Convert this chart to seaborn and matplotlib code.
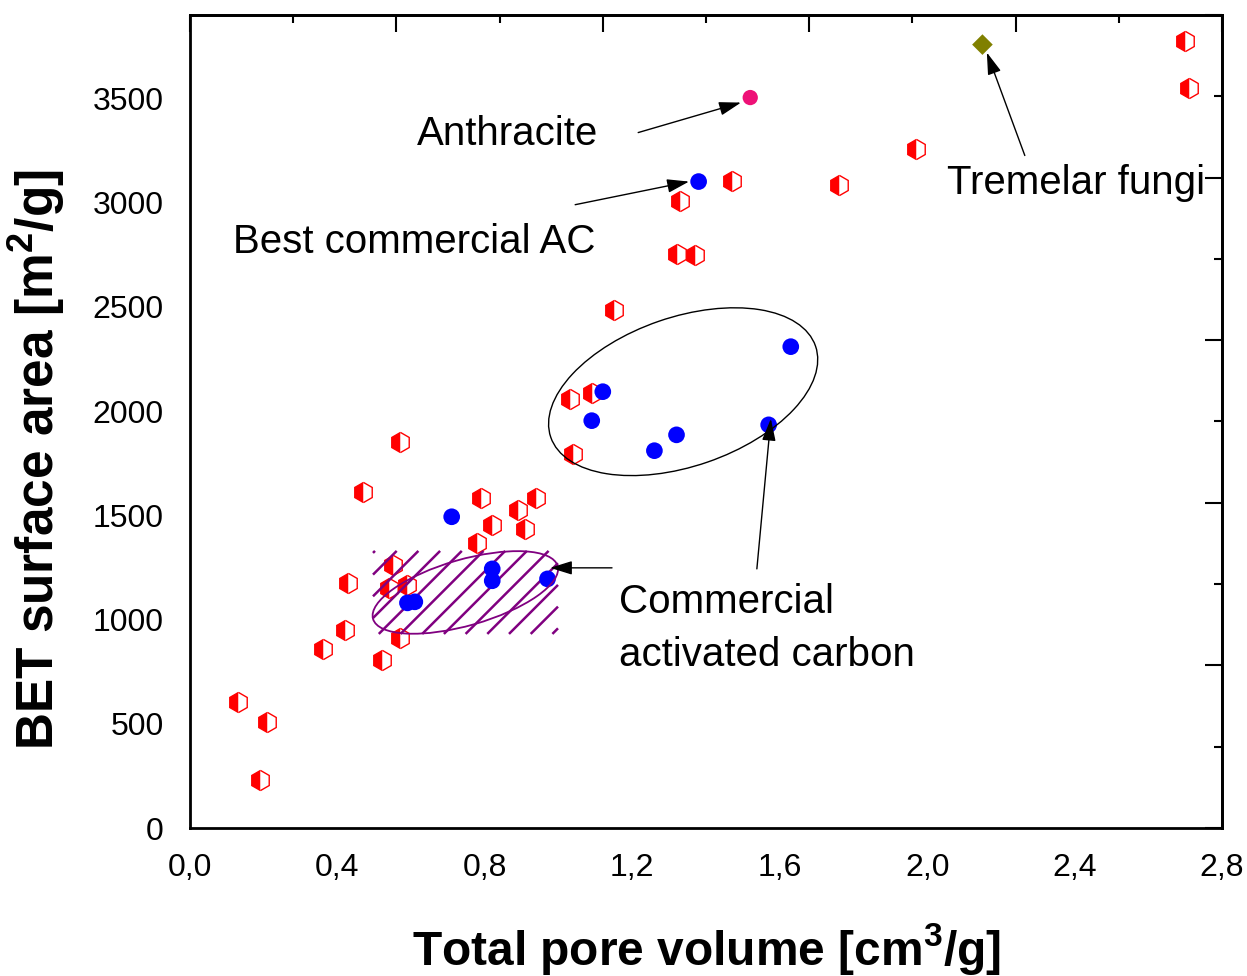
import numpy as np
import pandas as pd
import matplotlib
matplotlib.use("Agg")
import matplotlib.pyplot as plt
import matplotlib.transforms as mtransforms
from matplotlib.patches import Ellipse, FancyArrowPatch
from matplotlib.collections import LineCollection
from matplotlib.ticker import MultipleLocator, FuncFormatter
import seaborn as sns

# ---- data -------------------------------------------------------------
# activated carbons from literature (half-filled hexagons)
lit_volume = [0.13, 0.21, 0.19, 0.36, 0.42, 0.43, 0.47, 0.57, 0.52, 0.55,
              0.54, 0.59, 0.57, 0.78, 0.79, 0.82, 0.89, 0.91, 0.94, 1.03,
              1.04, 1.09, 1.15, 1.32, 1.37, 1.33, 1.47, 1.76, 1.97, 2.70, 2.71]
lit_area = [605, 510, 230, 860, 950, 1175, 1610, 1850, 805, 1262,
            1152, 1166, 912, 1365, 1585, 1455, 1525, 1435, 1585, 2060,
            1795, 2085, 2485, 2755, 2750, 3010, 3105, 3085, 3255, 3775, 3548]

# commercial activated carbons (filled circles)
com_volume = [0.71, 0.59, 0.61, 0.82, 0.82, 0.97, 1.09, 1.12, 1.26, 1.32,
              1.57, 1.63, 1.38]
com_area = [1493, 1080, 1085, 1243, 1186, 1195, 1954, 2093, 1810, 1886,
            1934, 2309, 3101]

anthracite_volume = [1.52]
anthracite_area = [3504]

fungi_volume = [2.15]
fungi_area = [3758]

x_ticks = [0.0, 0.4, 0.8, 1.2, 1.6, 2.0, 2.4, 2.8]
y_ticks = [0, 500, 1000, 1500, 2000, 2500, 3000, 3500]

# ---- style ------------------------------------------------------------
sns.set_style("white")
plt.rcParams["font.family"] = ["Liberation Sans", "DejaVu Sans"]
plt.rcParams["text.color"] = "black"
plt.rcParams["axes.labelcolor"] = "black"
plt.rcParams["xtick.color"] = "black"
plt.rcParams["ytick.color"] = "black"
plt.rcParams["mathtext.fontset"] = "custom"
plt.rcParams["mathtext.rm"] = "Liberation Sans:bold"
plt.rcParams["mathtext.it"] = "Liberation Sans:bold"
plt.rcParams["mathtext.bf"] = "Liberation Sans:bold"

fig = plt.figure(figsize=(12.47, 9.76), dpi=100)
ax = fig.add_axes([190 / 1247, 1 - 828 / 976, 1032 / 1247, 813 / 976])

xmax, ymax = 2.8, 3900
ax.set_xlim(0, xmax)
ax.set_ylim(0, ymax)

# ---- markers ----------------------------------------------------------
ax.plot(lit_volume, lit_area, linestyle="none", marker="h", markersize=14.5,
        fillstyle="left", color="red", markerfacecoloralt="white",
        markeredgecolor="red", markeredgewidth=1.0, zorder=3)

sns.scatterplot(x=com_volume, y=com_area, ax=ax, color="#0000ff", s=12 ** 2,
                edgecolor="none", zorder=5)
sns.scatterplot(x=anthracite_volume, y=anthracite_area, ax=ax,
                color="#ee1177", s=11 ** 2, edgecolor="none", zorder=5)
sns.scatterplot(x=fungi_volume, y=fungi_area, ax=ax, color="#808000",
                marker="D", s=10.5 ** 2, edgecolor="none", zorder=5)


def at_data(x, y):
    """Offset transform: local pixel units placed at a data point."""
    return mtransforms.ScaledTranslation(x, y, ax.transData)


# grouping ellipse around the high-area commercial carbons
ax.add_patch(Ellipse((0, 0), 280, 149, angle=19, fill=False, edgecolor="black",
                     linewidth=1.0, transform=at_data(1.338, 2093), zorder=6))

# hatched band with ellipse around the low-area commercial carbons
purple = "#800080"
hx0, hy0 = 0.4965, 931
hw, hh, step = 185, 83, 21.7
segs = []
for c in np.arange(2 - hh, hw + 1, step):
    t0, t1 = max(0.0, -c), min(hh, hw - c)
    if t1 > t0:
        segs.append([(c + t0, t0), (c + t1, t1)])
hatch = LineCollection(segs, colors=purple, linewidths=1.8,
                       transform=at_data(hx0, hy0), zorder=4)
ax.add_collection(hatch, autolim=False)
ax.add_patch(Ellipse((0, 0), 192, 66, angle=16, fill=False, edgecolor=purple,
                     linewidth=1.3, transform=at_data(0.747, 1130), zorder=6))

# ---- annotations ------------------------------------------------------
label_font = dict(fontsize=29, color="black", zorder=7, ha="left", va="baseline")
ax.text(0.616, 3275, "Anthracite", **label_font)
ax.text(0.117, 2760, "Best commercial AC", **label_font)
ax.text(2.054, 3043, "Tremelar fungi", **label_font)
ax.text(1.164, 1032, "Commercial", **label_font)
ax.text(1.164, 778, "activated carbon", **label_font)

arrows = [
    ((1.216, 3336), (1.495, 3480)),
    ((1.045, 2990), (1.354, 3101)),
    ((2.265, 3226), (2.162, 3720)),
    ((1.538, 1243), (1.576, 1963)),
    ((1.145, 1248), (0.977, 1248)),
]
for tail, head in arrows:
    ax.add_patch(FancyArrowPatch(
        tail, head, arrowstyle="-|>,head_length=0.9,head_width=0.28",
        mutation_scale=15, color="black", linewidth=1.0,
        shrinkA=0, shrinkB=0, zorder=8))

# ---- axes -------------------------------------------------------------
ax.set_xticks(x_ticks)
ax.set_yticks(y_ticks)
ax.xaxis.set_minor_locator(MultipleLocator(0.2))
ax.yaxis.set_minor_locator(MultipleLocator(250))
ax.xaxis.set_major_formatter(FuncFormatter(lambda v, p: f"{v:.1f}".replace(".", ",")))
ax.tick_params(which="both", direction="out", top=False, right=False,
               width=1.5, labelsize=23, colors="black")
ax.tick_params(axis="y", which="major", length=12, pad=7)
ax.tick_params(axis="y", which="minor", length=6.5)
ax.tick_params(axis="x", which="major", length=13, pad=5)
ax.tick_params(axis="x", which="minor", length=7)

for sp in ax.spines.values():
    sp.set_linewidth(2.0)
    sp.set_color("black")
    sp.set_visible(True)

# top and right frames carry inward ticks on a 0-1 scale
secx = ax.secondary_xaxis("top", functions=(lambda v: v / xmax, lambda t: t * xmax))
secy = ax.secondary_yaxis("right", functions=(lambda v: v / ymax, lambda t: t * ymax))
for sec, axis in ((secx, secx.xaxis), (secy, secy.yaxis)):
    axis.set_major_locator(MultipleLocator(0.2))
    axis.set_minor_locator(MultipleLocator(0.1))
    sec.tick_params(which="both", direction="in", width=1.5,
                    labeltop=False, labelright=False, colors="black")
    sec.tick_params(which="major", length=12)
    sec.tick_params(which="minor", length=6)
    for sp in sec.spines.values():
        sp.set_linewidth(2.0)
        sp.set_color("black")

ax.set_xlabel("Total pore volume [cm$^{3}$/g]", fontsize=34.5,
              fontweight="bold", color="black")
ax.set_ylabel("BET surface area [m$^{2}$/g]", fontsize=37,
              fontweight="bold", color="black")
ax.xaxis.set_label_coords(0.5, -0.115)
ax.yaxis.set_label_coords(-0.119, 0.453)

fig.savefig("out.png", dpi=100, facecolor="white")
